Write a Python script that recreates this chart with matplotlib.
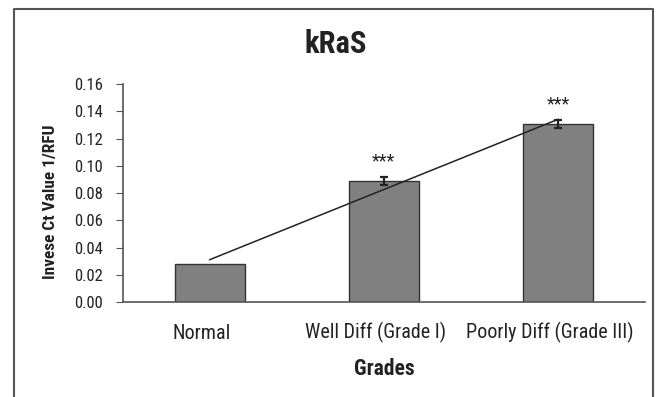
import matplotlib
matplotlib.use("Agg")
import matplotlib.pyplot as plt
import matplotlib.transforms as mtransforms
import numpy as np
from matplotlib.lines import Line2D

plt.rcParams['font.family'] = ['Roboto Condensed', 'Liberation Sans', 'DejaVu Sans']

categories = ["Normal", "Well Diff (Grade I)", "Poorly Diff (Grade III)"]
values = [0.028, 0.089, 0.131]
errors = [0.0, 0.003, 0.003]
signif = ["", "***", "***"]
yticks = [0.00, 0.02, 0.04, 0.06, 0.08, 0.10, 0.12, 0.14, 0.16]

fig = plt.figure(figsize=(6.67, 3.97), dpi=100)
ax = fig.add_axes([0.184, 0.239, 0.783, 0.549])
x = np.arange(len(categories))
ax.bar(x, values, width=0.4, color="#808080", edgecolor="#333333", linewidth=1.0, zorder=2)
for xi, v, e in zip(x, values, errors):
    if e > 0:
        ax.errorbar(xi, v, yerr=e, fmt="none", ecolor="#222222", elinewidth=1.6, capsize=3, capthick=1.6, zorder=3)
for xi, v, e, s in zip(x, values, errors, signif):
    if s:
        ax.text(xi, v + e + 0.011, s, ha="center", va="center", fontsize=13, color="#222222")

coef = np.polyfit(x, values, 1)
ax.plot(x, np.polyval(coef, x), color="#222222", linewidth=1.1, zorder=4)

ax.set_xlim(-0.5, 2.5)
ax.set_ylim(0, 0.16)
ax.set_yticks(yticks)
ax.set_yticklabels([f"{t:.2f}" for t in yticks], fontsize=12, color="#222222")
ax.set_xticks(x)
ax.set_xticklabels(categories, fontsize=14.5, color="#222222")
ax.tick_params(axis="x", length=0, pad=14)
ax.tick_params(axis="y", length=5, direction="out", color="#555555", pad=9)
# category labels sit slightly left of the bar centres in the reference
for i, lbl in enumerate(ax.get_xticklabels()):
    dy = -2/100 if i == 0 else 0
    lbl.set_transform(lbl.get_transform() + mtransforms.ScaledTranslation(-8.5/100, dy, fig.dpi_scale_trans))
for s in ["top", "right"]:
    ax.spines[s].set_visible(False)
for s in ["left", "bottom"]:
    ax.spines[s].set_color("#555555")
    ax.spines[s].set_linewidth(1.2)
ax.set_xlabel("Grades", fontsize=15.5, fontweight="bold", labelpad=11, color="#222222")
ax.set_ylabel("Invese Ct Value 1/RFU", fontsize=12.5, fontweight="bold", color="#222222")
ax.yaxis.set_label_coords(-0.124, 0.46)
fig.text(0.503, 0.889, "kRaS", ha="center", va="center", fontsize=22, fontweight="bold", color="#222222")

# outer frame (left, top, right)
fx0, fx1, fy1 = 14/667, 653/667, 1 - 9/397
fig.add_artist(Line2D([fx0, fx0, fx1, fx1], [0, fy1, fy1, 0], transform=fig.transFigure,
                      color="#555555", linewidth=1.5))

fig.savefig("out.png", dpi=100)
